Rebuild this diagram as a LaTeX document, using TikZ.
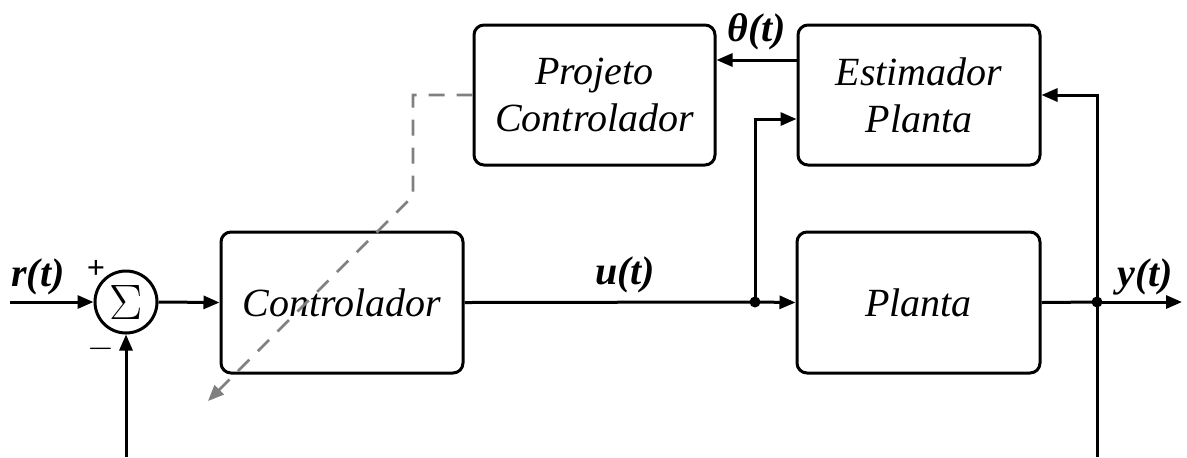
\documentclass[tikz,border=0pt]{standalone}
\usepackage{fontspec}
\setmainfont{Liberation Serif}
\usetikzlibrary{arrows.meta}
\begin{document}
\begin{tikzpicture}[x=0.5pt,y=-0.5pt,
  line width=1.5pt,
  >={Triangle[length=8pt,width=6.5pt]},
  blk/.style={draw,rounded corners=5pt,align=center,inner sep=0pt,
    font=\fontsize{20}{23.5}\selectfont\itshape},
  sig/.style={font=\fontsize{20}{22}\selectfont\bfseries\itshape},
  sgn/.style={font=\fontsize{16}{17}\selectfont\bfseries},
  dot/.style={circle,fill,inner sep=0pt,minimum size=5.5pt},
  ctl/.style={draw=gray,dashed,dash pattern=on 8pt off 6pt,line width=1.3pt}]
\useasboundingbox (0,0) rectangle (1187,457);

% blocks
\node[draw,circle,minimum size=31pt,inner sep=0pt] (sum) at (126,302)
  {\fontsize{23}{25}\selectfont$\Sigma$};
\node[blk,minimum width=121pt,minimum height=70.5pt] (ctrl) at (342,302.5) {Controlador};
\node[blk,minimum width=121.5pt,minimum height=70.5pt] (plant) at (918.5,302.5) {Planta};
\node[blk,minimum width=121pt,minimum height=70pt] (est) at (919,95) {Estimador\\Planta};
\node[blk,minimum width=120.5pt,minimum height=70pt] (proj) at (594.5,95) {Projeto\\Controlador};

% junctions and free ends
\node[dot] (ju) at (755,302) {};
\node[dot] (jy) at (1097,302) {};
\coordinate (rin) at (10,302);
\coordinate (yout) at (1182,302);
\coordinate (fbl) at (126,457);
\coordinate (fbr) at (1097,457);
\coordinate (dend) at (208,401);

% signal labels
\node[sig] (rl) at (38,277) {r(t)};
\node[sig] (ul) at (625,275) {u(t)};
\node[sig] (tl) at (757,32) {θ(t)};
\node[sig] (yl) at (1145,277) {y(t)};
\node[sgn] (plus) at (96,269) {+};
\node[sgn] (minus) at (101,349) {$-$};

% connectors
\draw[->] (rin) -- (sum.west);
\draw[->] (sum.east) -- (ctrl.west);
\draw (ctrl.east) -- (ju.center);
\draw[->] (ju.center) -- (plant.west);
\draw[->] (ju.center) |- (est.west |- 0,119);
\draw (plant.east) -- (jy.center);
\draw[->] (jy.center) -- (yout);
\draw[->] (jy.center) |- (est.east |- 0,95);
\draw (jy.center) -- (fbr);
\draw[->] (fbl) -- (sum.south);
\draw[->] (est.west |- 0,60) -- (proj.east |- 0,60);

% controller tuning
\draw[ctl,-{Triangle[length=8pt,width=6.5pt]}] (proj.west |- 0,95) -- (413,95) -- (413,196) -- (dend);
\end{tikzpicture}
\end{document}
